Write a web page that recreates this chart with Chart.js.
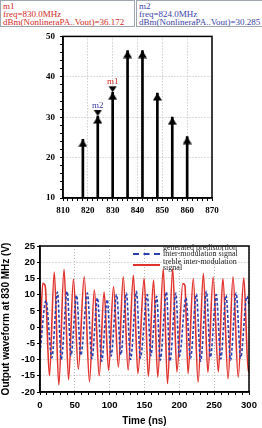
<!DOCTYPE html>
<html lang="en">
<head>
<meta charset="UTF-8">
<title>PA spectrum and waveform</title>
<style>
    body { margin: 0; background: #fff; width: 262px; height: 428px; position: relative; overflow: hidden; }
    .mbox {
        position: absolute; top: 0; height: 24px; border: 1px solid #a0a6b0;
        font-family: "Liberation Serif", serif; font-size: 9px; line-height: 8px;
        padding: 1px 0 0 2px; box-sizing: content-box; white-space: nowrap;
    }
    canvas { position: absolute; left: 0; }
    .legend { position: absolute; left: 133px; top: 245px; font-family: "Liberation Serif", serif; font-size: 8px; line-height: 6px; color: #222; }
    .legend .row { position: relative; height: 14px; }
    .legend .swatch { position: absolute; left: 0; width: 27px; }
    .legend .txt { position: absolute; left: 30px; top: 0; white-space: nowrap; }
</style>
<script src="https://cdn.jsdelivr.net/npm/chart.js"></script>
</head>
<body>
<div class="mbox" style="left:0;width:131px;color:#d2281e">m1<br>freq=830.0MHz<br>dBm(NonlineraPA..Vout)=36.172</div>
<div class="mbox" style="left:136px;width:123px;color:#3a3fa6">m2<br>freq=824.0MHz<br>dBm(NonlineraPA..Vout)=30.285</div>

<canvas id="spec" width="262" height="200" style="top:26px"></canvas>
<canvas id="wave" width="262" height="200" style="top:228px"></canvas>

<div class="legend">
    <div class="row">
        <div class="swatch" style="top:8px;border-top:2px dashed #2c3fae"></div>
        <div class="txt">generated predistortion<br>inter-modulation signal</div>
    </div>
    <div class="row">
        <div class="swatch" style="top:5px;border-top:2px solid #e0312b"></div>
        <div class="txt">treble inter-modulation<br>signal</div>
    </div>
</div>

<script>
// ---- spectrum data (dBm at each tone) ----
const freqs = [818, 824, 830, 836, 842, 848, 854, 860];
const powers = [24.5, 30.285, 36.172, 46.5, 46.5, 36.0, 30.0, 25.2];
const markerNames = ['m1', 'm2'];
const markerFreqs = [830, 824];
const markerValues = [36.172, 30.285];
const markerColors = ['#d2281e', '#3a3fa6'];

// ---- waveform data (ns, V) read from peaks/troughs ----
const redTimes = [0, 4, 7.5, 13.5, 20.5, 27, 34.5, 41, 48, 55, 63.5, 71, 78, 85, 92, 98.5, 105.5, 112.5,
    119.5, 126.5, 134, 140.5, 149.5, 155.5, 163, 169, 177, 183, 190.5, 196.5, 205, 208, 212.5, 220, 227,
    234.5, 241, 248.5, 256, 262.5, 270, 277, 284.5, 292.5, 299, 300];
const redValues = [-6, 13.5, 12.6, -15, 17, -17.8, 17.8, -16.2, 14.8, -13, 15.5, -16.8, 11.5, -15, 10.8, -13.3, 12.5, -12.3,
    15.5, -13.3, 16, -14.3, 15, -15.2, 14.5, -15.4, 18, -17.4, 18, -13.8, 13.4, 12.8, -14.3, 15, -17,
    16.5, -14, 15.4, -13.8, 15, -15.9, 15.5, -15.4, 15.2, -13.8, -12];
const blueTimes = [0, 8.5, 17, 25, 30.5, 39, 44.5, 52.5, 58.5, 68, 74.5, 82.5, 88.5, 96.5, 102, 110, 116, 124,
    130, 138.5, 144, 154, 159, 167.5, 172.5, 181.5, 186.5, 195, 200, 209.5, 216, 224.5, 230.5, 239, 244.5,
    253, 259.5, 267, 273.5, 281.5, 288, 297, 300];
const blueValues = [-8, 8.2, -9.5, 10.8, -10, 11, -8.8, 9.8, -8.7, 10.5, -9.7, 9, -10.5, 8.5, -9, 10, -8.5, 10.5,
    -10, 11, -9.5, 10, -8.8, 9.5, -10.2, 10.8, -10.5, 10.5, -9, 9, -9.6, 10.2, -10.5, 11, -9.3,
    10, -9.8, 9.8, -10.2, 10.5, -9.5, 9.5, 7];

// arrow heads as small images whose tip sits at the image centre
function triImage(up) {
    const c = document.createElement('canvas');
    c.width = 9; c.height = 16;
    const g = c.getContext('2d');
    g.fillStyle = '#000';
    g.beginPath();
    if (up) { g.moveTo(4.5, 8); g.lineTo(9, 15.5); g.lineTo(0, 15.5); }
    else { g.moveTo(4.5, 8); g.lineTo(8.5, 2); g.lineTo(0.5, 2); }
    g.closePath();
    g.fill();
    return c;
}

const frame = {
    id: 'frame',
    afterDraw(chart) {
        const a = chart.chartArea, ctx = chart.ctx;
        ctx.save();
        ctx.strokeStyle = '#000';
        ctx.lineWidth = 1.5;
        ctx.strokeRect(a.left, a.top, a.right - a.left, a.bottom - a.top);
        ctx.restore();
    }
};

const markerLabels = {
    id: 'markerLabels',
    afterDatasetsDraw(chart) {
        const ctx = chart.ctx, xs = chart.scales.x, ys = chart.scales.y;
        ctx.save();
        ctx.font = '9px "Liberation Serif"';
        ctx.textAlign = 'center';
        ctx.textBaseline = 'bottom';
        markerNames.forEach((n, i) => {
            ctx.fillStyle = markerColors[i];
            ctx.fillText(n, xs.getPixelForValue(markerFreqs[i]), ys.getPixelForValue(markerValues[i]) - 6);
        });
        ctx.restore();
    }
};

function gridColor(step) {
    return ctx => (ctx.tick && ctx.tick.value % step === 0) ? '#b8b8b8' : 'rgba(0,0,0,0)';
}

const serifTick = { family: 'Liberation Serif', size: 9, weight: 'bold' };

new Chart(document.getElementById('spec'), {
    type: 'bar',
    data: {
        datasets: [
            {
                type: 'line', showLine: false,
                data: markerFreqs.map((f, i) => ({ x: f, y: markerValues[i] })),
                pointStyle: triImage(false), pointRadius: 4
            },
            {
                type: 'line', showLine: false,
                data: freqs.map((f, i) => ({ x: f, y: powers[i] })),
                pointStyle: triImage(true), pointRadius: 4
            },
            {
                data: freqs.map((f, i) => ({ x: f, y: powers[i] })),
                backgroundColor: '#000', barThickness: 2
            }
        ]
    },
    options: {
        responsive: false, animation: false,
        layout: { padding: { top: 9, right: 50, left: 0, bottom: 0 } },
        plugins: { legend: { display: false }, tooltip: { enabled: false } },
        scales: {
            x: {
                type: 'linear', min: 810, max: 870, offset: false,
                afterFit: s => { s.height = 28; },
                ticks: { stepSize: 2, autoSkip: false, maxRotation: 0, padding: 4, color: '#000', font: serifTick,
                    callback: v => v % 10 === 0 ? v : '' },
                grid: { offset: false, color: gridColor(10), tickColor: '#000', tickLength: 3 },
                border: { color: '#000', width: 1.5, dash: [1, 2] }
            },
            y: {
                min: 10, max: 50,
                afterFit: s => { s.width = 63; },
                ticks: { stepSize: 2, autoSkip: false, padding: 5, color: '#000', font: serifTick,
                    callback: v => v % 10 === 0 ? v : '' },
                grid: { color: gridColor(10), tickColor: '#000', tickLength: 3 },
                border: { color: '#000', width: 1.5, dash: [1, 2] }
            }
        }
    },
    plugins: [frame, markerLabels]
});

const sansTick = { family: 'Liberation Sans', size: 9.5, weight: 'bold' };

new Chart(document.getElementById('wave'), {
    type: 'line',
    data: {
        datasets: [
            {
                label: 'generated predistortion inter-modulation signal',
                data: blueTimes.map((t, i) => ({ x: t, y: blueValues[i] })),
                borderColor: '#2c3fae', borderWidth: 1.6, borderDash: [3, 2],
                pointRadius: 0, cubicInterpolationMode: 'monotone'
            },
            {
                label: 'treble inter-modulation signal',
                data: redTimes.map((t, i) => ({ x: t, y: redValues[i] })),
                borderColor: '#e0312b', borderWidth: 1.6,
                pointRadius: 0, cubicInterpolationMode: 'monotone'
            }
        ]
    },
    options: {
        responsive: false, animation: false,
        layout: { padding: { top: 18, right: 13, left: 0, bottom: 0 } },
        plugins: { legend: { display: false }, tooltip: { enabled: false } },
        scales: {
            x: {
                type: 'linear', min: 0, max: 300,
                afterFit: s => { s.height = 36; },
                ticks: { stepSize: 10, autoSkip: false, maxRotation: 0, padding: 5, color: '#000', font: sansTick,
                    callback: v => v % 50 === 0 ? v : '' },
                grid: { color: gridColor(50), tickColor: '#000', tickLength: 3 },
                border: { color: '#000', width: 1.5, dash: [1, 2] },
                title: { display: true, text: 'Time (ns)', color: '#000', padding: { top: 0, bottom: 1 },
                    font: { family: 'Liberation Sans', size: 10, weight: 'bold' } }
            },
            y: {
                min: -20, max: 25,
                afterFit: s => { s.width = 40; },
                ticks: { stepSize: 5, padding: 2, color: '#000', font: sansTick },
                grid: { color: gridColor(5), tickColor: '#000', tickLength: 3 },
                border: { color: '#000', width: 1.5, dash: [1, 2] },
                title: { display: true, text: 'Output waveform at 830 MHz (V)', color: '#000', padding: { top: 0, bottom: 0 },
                    font: { family: 'Liberation Sans', size: 10, weight: 'bold' } }
            }
        }
    },
    plugins: [frame]
});
</script>
</body>
</html>
